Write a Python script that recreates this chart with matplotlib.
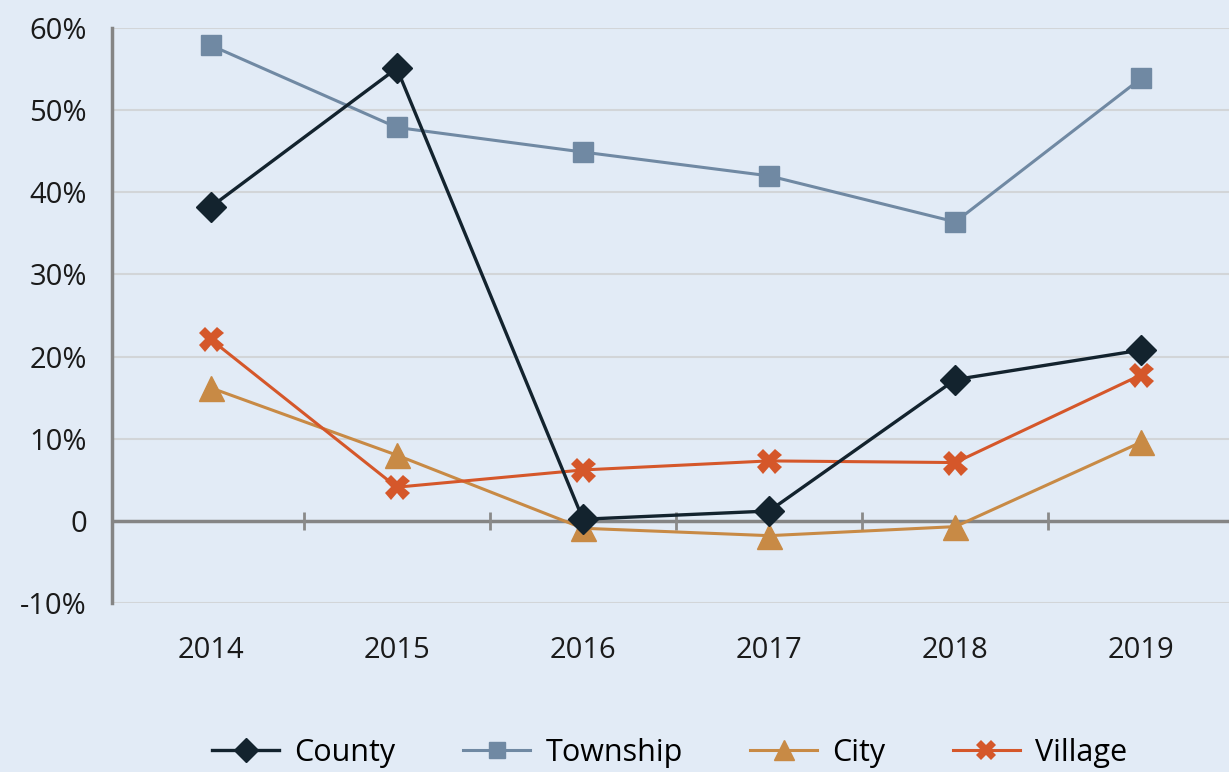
import numpy as np
import matplotlib.pyplot as plt

# Valores (%)
anos = ['2014', '2015', '2016', '2017', '2018', '2019']
county = [38.2, 55.1, 0.2, 1.2, 17.2, 20.8]
township = [57.9, 47.9, 44.9, 42.0, 36.4, 53.9]
city = [16.2, 8.0, -0.9, -1.8, -0.7, 9.6]
village = [22.1, 4.1, 6.2, 7.3, 7.1, 17.8]

yticks = [-10, 0, 10, 20, 30, 40, 50, 60]
ylabels = ['-10%', '0', '10%', '20%', '30%', '40%', '50%', '60%']

fundo = '#e2ebf6'
plt.rcParams['font.family'] = ['Open Sans', 'DejaVu Sans']

fig = plt.figure(figsize=(12.29, 7.72), dpi=100, facecolor=fundo)
ax = fig.add_axes([0.0911, 0.2189, 0.9089, 0.7448])
ax.set_facecolor(fundo)

x = np.arange(len(anos))

# grade horizontal
for v in yticks:
    if v != 0:
        ax.axhline(v, color='#d2d5d8', lw=1.5, zorder=0)
# linha do zero com marcas entre as categorias
ax.axhline(0, color='#858585', lw=2.5, zorder=1)
ax.vlines(x[:-1] + 0.5, -1.1, 1.1, color='#8a8a8a', lw=2, zorder=1)

ax.plot(x, township, color='#7089a3', lw=2.2, marker='s', ms=15, label='Township', zorder=3)
ax.plot(x, county, color='#13232e', lw=2.4, marker='D', ms=15, label='County', zorder=4)
ax.plot(x, city, color='#c88a45', lw=2.2, marker='^', ms=18, label='City', zorder=3)
ax.plot(x, village, color='#d5572a', lw=2.2, marker='X', ms=18, mew=0, label='Village', zorder=3)

ax.set_xlim(-0.53, 5.47)
ax.set_ylim(-10, 60)
ax.set_yticks(yticks)
ax.set_yticklabels(ylabels, fontsize=21, color='#1a1a1a')
ax.set_xticks(x)
ax.set_xticklabels(anos, fontsize=21, color='#1a1a1a')
ax.tick_params(axis='y', length=0, pad=18)
ax.tick_params(axis='x', length=0, pad=24)

for lado in ['top', 'right', 'bottom']:
    ax.spines[lado].set_visible(False)
ax.spines['left'].set_color('#858585')
ax.spines['left'].set_linewidth(2.5)

h, l = ax.get_legend_handles_labels()
ordem = [1, 0, 2, 3]
ax.legend([h[i] for i in ordem], [l[i] for i in ordem], loc='center',
          bbox_to_anchor=(0.545, 0.025), bbox_transform=fig.transFigure,
          ncol=4, frameon=False, fontsize=22, columnspacing=2.2,
          handlelength=2.2, handletextpad=0.5, markerscale=0.8)

fig.savefig('out.png', dpi=100, facecolor=fundo)
